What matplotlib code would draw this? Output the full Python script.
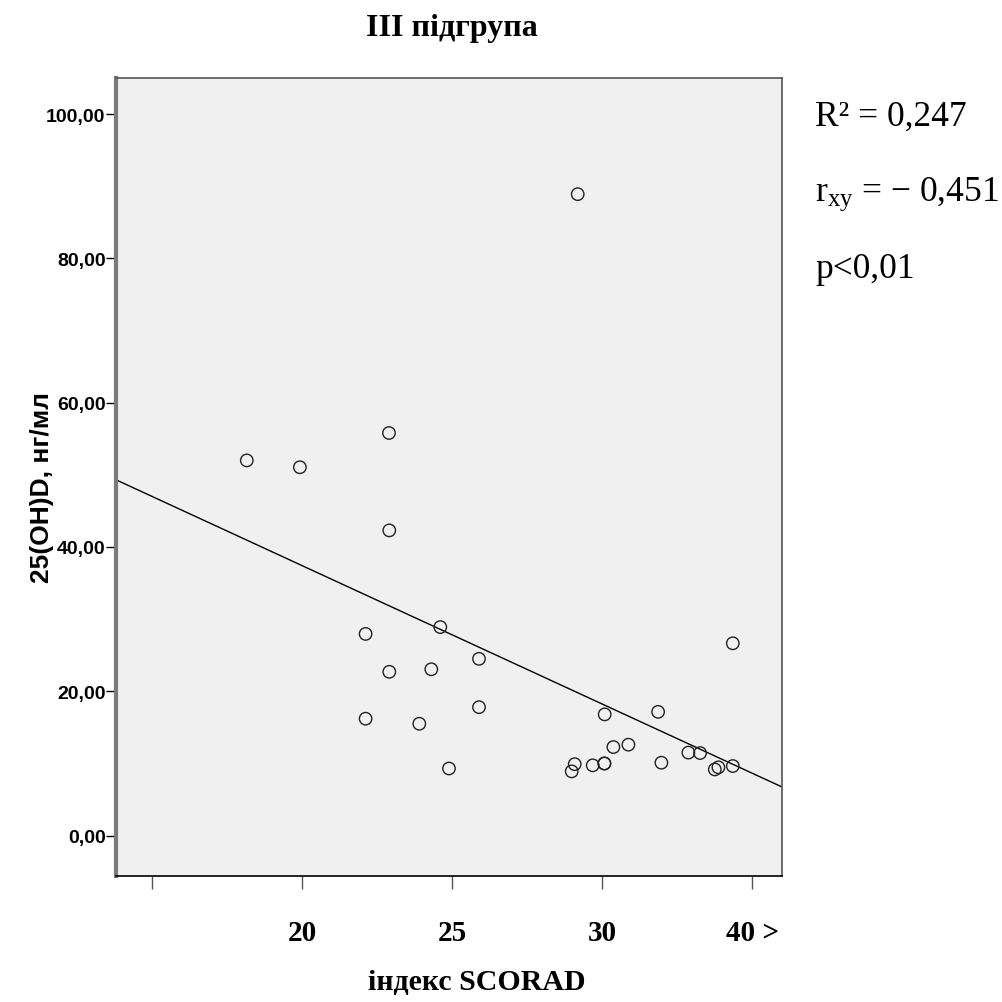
import numpy as np
import matplotlib
matplotlib.use("Agg")
import matplotlib.pyplot as plt

# SCORAD index vs 25(OH)D, subgroup III
scorad = [18.16, 19.93, 22.9, 22.91, 24.61, 22.12, 22.91, 24.31, 25.9, 25.9,
          22.12, 23.91, 24.9, 29.19, 34.36, 30.09, 31.87, 30.38, 30.88, 29.09,
          28.99, 29.69, 30.08, 30.08, 31.98, 32.88, 33.27, 33.76, 33.88, 34.36]
vitd = [52.0, 51.05, 55.8, 42.3, 28.9, 27.95, 22.7, 23.05, 24.5, 17.8,
        16.2, 15.5, 9.3, 88.9, 26.65, 16.8, 17.15, 12.27, 12.6, 9.9,
        8.9, 9.74, 9.99, 10.0, 10.1, 11.5, 11.44, 9.17, 9.46, 9.64]
x_ticks = [15, 20, 25, 30, 35]
x_ticklabels = ["", "20", "25", "30", "40 >"]
y_ticks = [0, 20, 40, 60, 80, 100]
y_ticklabels = ["0,00", "20,00", "40,00", "60,00", "80,00", "100,00"]

plt.rcParams.update({"mathtext.fontset": "custom", "mathtext.rm": "Liberation Serif",
                     "mathtext.it": "Liberation Serif:italic"})

fig = plt.figure(figsize=(10.03, 10.03), dpi=100)
ax = fig.add_axes([116 / 1003, 1 - 877 / 1003, 666 / 1003, 798 / 1003])
ax.set_facecolor("#F0F0F0")

ax.scatter(scorad, vitd, s=80, facecolors="none", edgecolors="#222222", linewidths=1.0, zorder=3)

ax.set_xlim(13.8, 36.0)
ax.set_ylim(-5.6, 105.0)

b1, b0 = np.polyfit(scorad, vitd, 1)
xs = np.array(ax.get_xlim())
ax.plot(xs, b0 + b1 * xs, color="black", linewidth=1.0, zorder=2)

ax.set_yticks(y_ticks, y_ticklabels, fontfamily="Liberation Sans", fontweight="bold", fontsize=14)
ax.set_xticks(x_ticks, x_ticklabels, fontfamily="Liberation Serif", fontweight="bold", fontsize=21)
ax.tick_params(axis="y", length=7, width=1, pad=0.5, color="black")
ax.tick_params(axis="x", length=9, width=1, pad=22, color="#555555")

ax.spines["left"].set_color("#7a7a7a")
ax.spines["left"].set_linewidth(3)
ax.spines["top"].set_color("#555555")
ax.spines["right"].set_color("#555555")
ax.spines["bottom"].set_color("black")
for s in ["top", "right", "bottom"]:
    ax.spines[s].set_linewidth(1.2)

fig.text(452 / 1003, 1 - 36 / 1003, "III підгрупа", family="Liberation Serif",
         fontweight="bold", fontsize=23, ha="center", va="baseline")
fig.text(477 / 1003, 1 - 983 / 1003, "індекс SCORAD", family="Liberation Serif",
         fontweight="bold", fontsize=21.5, ha="center", va="center")
fig.text(42 / 1003, 1 - 488 / 1003, "25(OH)D, нг/мл", family="Liberation Sans",
         fontweight="bold", fontsize=19, rotation=90, ha="center", va="center")

stat_kw = dict(family="Liberation Serif", fontsize=25.5, ha="left", va="baseline")
fig.text(815 / 1003, 1 - 126 / 1003, "R² = 0,247", **stat_kw)
fig.text(815 / 1003, 1 - 201 / 1003, r"$\mathrm{r_{xy}}$ = − 0,451", **stat_kw)
fig.text(815 / 1003, 1 - 278 / 1003, "p<0,01", **stat_kw)

fig.savefig("out.png", dpi=100)
